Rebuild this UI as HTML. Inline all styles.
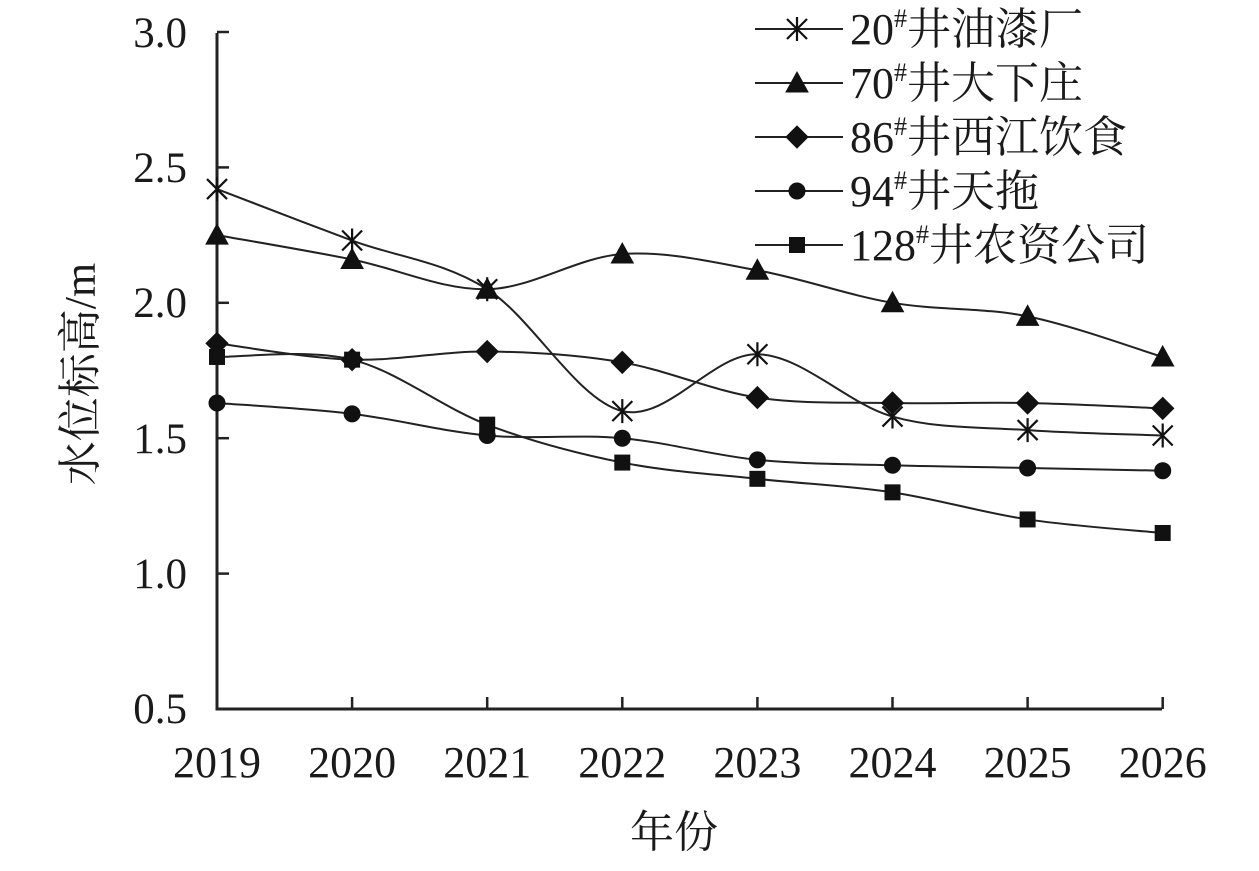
<!DOCTYPE html>
<html><head><meta charset="utf-8"><style>
body{margin:0;background:#fff}
svg text{font-family:"Liberation Serif","Noto Serif CJK SC",serif;fill:#1a1a1a}
</style></head><body>
<svg id="s" width="1259" height="866" viewBox="0 0 1259 866" xmlns="http://www.w3.org/2000/svg">
<g stroke="#222" stroke-width="3" fill="none">
<path d="M217 33 V709 H1162"/>
</g>
<g id="ticks" stroke="#222" stroke-width="2.5"></g>
<g font-size="43" text-anchor="end">
<text x="187" y="47">3.0</text><text x="187" y="182">2.5</text><text x="187" y="317">2.0</text>
<text x="187" y="453">1.5</text><text x="187" y="588">1.0</text><text x="187" y="723">0.5</text>
</g>
<g id="xl" font-size="44" text-anchor="middle"></g>
<text x="674" y="847" font-size="44" text-anchor="middle">年份</text>
<text transform="translate(95,374) rotate(-90)" font-size="44" text-anchor="middle">水位标高/m</text>
<g id="series" stroke="#222" stroke-width="2" fill="none"></g>
<g id="marks" fill="#111" stroke="#111"></g>
<g id="leg" font-size="44"></g>
</svg>
<script>
const NS="http://www.w3.org/2000/svg";
function el(p,t,a,txt){const e=document.createElementNS(NS,t);for(const k in a)e.setAttribute(k,a[k]);if(txt)e.innerHTML=txt;p.appendChild(e);return e;}
const X0=217,DX=135.1,yv=v=>709-(v-0.5)*270.8;
const ticks=document.getElementById('ticks'),xl=document.getElementById('xl');
for(let i=0;i<8;i++){const x=X0+i*DX;if(i>0)el(ticks,'line',{x1:x,x2:x,y1:709,y2:697});el(xl,'text',{x:x,y:777},String(2019+i));}
for(let v=1;v<=3;v+=0.5){const y=yv(v);el(ticks,'line',{x1:217,x2:229,y1:y,y2:y});}
const data=[
["*",[2.42,2.23,2.05,1.60,1.81,1.58,1.53,1.51],"20"],
["t",[2.25,2.16,2.05,2.18,2.12,2.00,1.95,1.80],"70"],
["d",[1.85,1.79,1.82,1.78,1.65,1.63,1.63,1.61],"86"],
["c",[1.63,1.59,1.51,1.50,1.42,1.40,1.39,1.38],"94"],
["s",[1.80,1.79,1.55,1.41,1.35,1.30,1.20,1.15],"128"]];
const names=["井油漆厂","井大下庄","井西江饮食","井天拖","井农资公司"];
const S=document.getElementById('series'),M=document.getElementById('marks'),L=document.getElementById('leg');
function mark(t,x,y){
 if(t=="*"){el(M,'path',{d:`M${x-10} ${y-10}L${x+10} ${y+10}M${x-10} ${y+10}L${x+10} ${y-10}M${x} ${y-12}V${y+12}`,fill:'none','stroke-width':2.2});}
 else if(t=="t")el(M,'path',{d:`M${x} ${y-11}L${x+11} ${y+9}L${x-11} ${y+9}Z`});
 else if(t=="d")el(M,'path',{d:`M${x} ${y-11}L${x+11} ${y}L${x} ${y+11}L${x-11} ${y}Z`});
 else if(t=="c")el(M,'circle',{cx:x,cy:y,r:8});
 else el(M,'rect',{x:x-7.5,y:y-7.5,width:15,height:15});
}
data.forEach((d,k)=>{
 const P=d[1].map((v,i)=>[X0+i*DX,yv(v)]);
 let s=`M${P[0][0]} ${P[0][1]}`;
 for(let i=0;i<P.length-1;i++){const p0=P[Math.max(i-1,0)],p1=P[i],p2=P[i+1],p3=P[Math.min(i+2,P.length-1)];
  s+=`C${p1[0]+(p2[0]-p0[0])/6} ${p1[1]+(p2[1]-p0[1])/6} ${p2[0]-(p3[0]-p1[0])/6} ${p2[1]-(p3[1]-p1[1])/6} ${p2[0]} ${p2[1]}`;}
 el(S,'path',{d:s});
 P.forEach(p=>mark(d[0],p[0],p[1]));
 const ly=29+k*54;
 el(S,'line',{x1:755,x2:843,y1:ly,y2:ly});
 mark(d[0],797,ly);
 el(L,'text',{x:850,y:ly+15},d[2]+'<tspan font-size="26" dy="-17">#</tspan><tspan dy="17">'+names[k]+'</tspan>');
});
</script>
</body></html>
